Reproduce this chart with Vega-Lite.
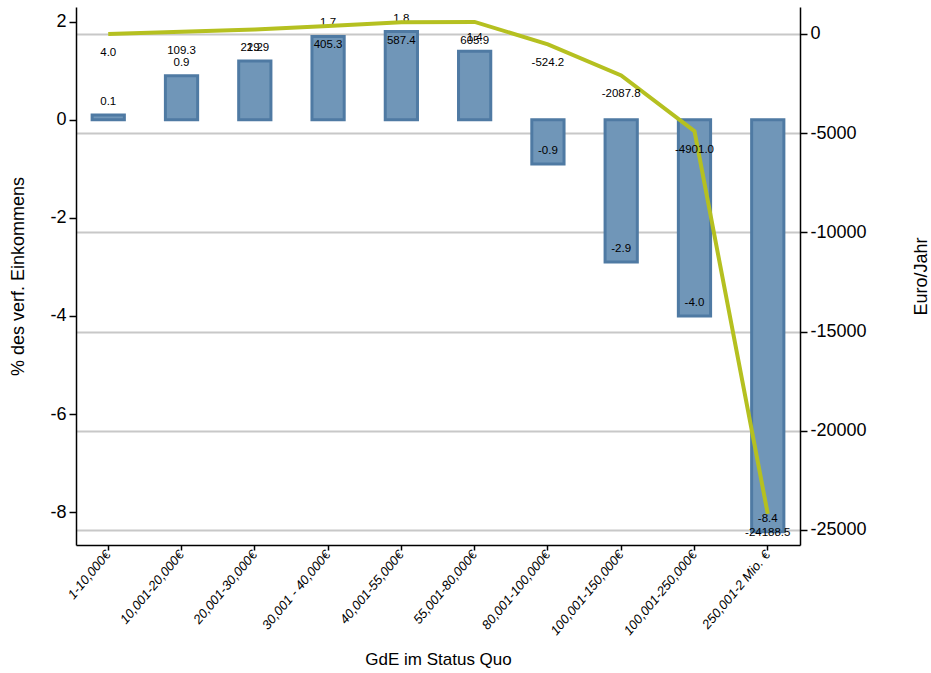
{
  "$schema": "https://vega.github.io/schema/vega-lite/v6.json",
  "width": 724,
  "height": 538,
  "autosize": {"type": "none"},
  "padding": {"left": 76, "top": 7, "right": 131, "bottom": 128},
  "background": "white",
  "config": {
    "view": {"stroke": null},
    "font": "Liberation Sans",
    "axis": {"domainColor": "black", "tickColor": "black", "labelColor": "black", "titleColor": "black", "titleFontWeight": "normal", "domainWidth": 1.5, "tickWidth": 1.5}
  },
  "data": {
    "values": [
      {"cat": "1-10,000€", "pct": 0.1, "euro": 4.0, "pl": "0.1", "el": "4.0"},
      {"cat": "10,001-20,000€", "pct": 0.9, "euro": 109.3, "pl": "0.9", "el": "109.3"},
      {"cat": "20,001-30,000€", "pct": 1.2, "euro": 229.9, "pl": "1.2", "el": "229.9"},
      {"cat": "30,001 - 40,000€", "pct": 1.7, "euro": 405.3, "pl": "1.7", "el": "405.3"},
      {"cat": "40,001-55,000€", "pct": 1.8, "euro": 587.4, "pl": "1.8", "el": "587.4"},
      {"cat": "55,001-80,000€", "pct": 1.4, "euro": 605.9, "pl": "1.4", "el": "605.9"},
      {"cat": "80,001-100,000€", "pct": -0.9, "euro": -524.2, "pl": "-0.9", "el": "-524.2"},
      {"cat": "100,001-150,000€", "pct": -2.9, "euro": -2087.8, "pl": "-2.9", "el": "-2087.8"},
      {"cat": "100,001-250,000€", "pct": -4.0, "euro": -4901.0, "pl": "-4.0", "el": "-4901.0"},
      {"cat": "250,001-2 Mio. €", "pct": -8.4, "euro": -24188.5, "pl": "-8.4", "el": "-24188.5"}
    ]
  },
  "encoding": {
    "x": {
      "field": "cat", "type": "nominal", "sort": null,
      "scale": {"paddingInner": 0.56, "paddingOuter": 0.22},
      "axis": {"title": "GdE im Status Quo", "titleFontSize": 17, "titlePadding": 14, "labelAngle": -50, "labelAlign": "right", "labelBaseline": "middle", "labelFontSize": 13, "labelFontStyle": "italic", "tickSize": 5, "labelPadding": 2}
    }
  },
  "layer": [
    {
      "layer": [
        {
          "mark": {"type": "bar", "fill": "#7096b8", "stroke": "#4f7aa3", "strokeWidth": 3},
          "encoding": {
            "y": {"field": "pct", "type": "quantitative",
              "scale": {"domain": [-8.67, 2.3], "nice": false, "zero": false},
              "axis": {"title": "% des verf. Einkommens", "titleFontSize": 18, "titlePadding": 22, "labelFontSize": 18, "values": [2, 0, -2, -4, -6, -8], "labelExpr": "'' + datum.value", "grid": false, "tickSize": 7, "labelPadding": 3}
            }
          }
        },
        {
          "mark": {"type": "text", "fontSize": 11.5, "dy": -13, "color": "black"},
          "encoding": {
            "y": {"field": "pct", "type": "quantitative"},
            "text": {"field": "pl"}
          }
        }
      ]
    },
    {
      "layer": [
        {
          "mark": {"type": "line", "color": "#b5c020", "strokeWidth": 4},
          "encoding": {
            "y": {"field": "euro", "type": "quantitative",
              "scale": {"domain": [-25760, 1360], "nice": false, "zero": false},
              "axis": {"orient": "right", "title": "Euro/Jahr", "titleAngle": -90, "titleFontSize": 18, "titlePadding": 64, "labelFontSize": 18, "values": [0, -5000, -10000, -15000, -20000, -25000], "labelExpr": "'' + datum.value", "grid": true, "gridColor": "#c8c8c8", "gridWidth": 2, "tickSize": 7, "labelPadding": 3}
            }
          }
        },
        {
          "mark": {"type": "text", "fontSize": 11.5, "dy": 19, "color": "black"},
          "encoding": {
            "y": {"field": "euro", "type": "quantitative"},
            "text": {"field": "el"}
          }
        }
      ]
    }
  ],
  "resolve": {"scale": {"y": "independent"}}
}
